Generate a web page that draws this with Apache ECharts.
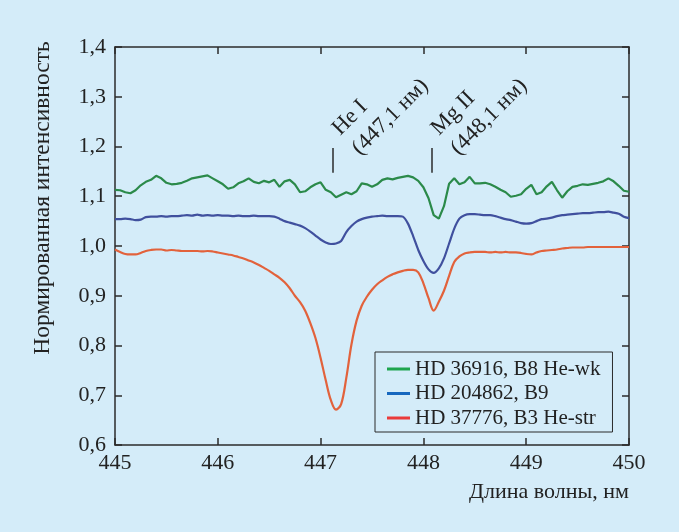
<!DOCTYPE html>
<html>
<head>
<meta charset="utf-8">
<style>
  html, body { margin: 0; padding: 0; background: #d4ecf9; }
  #chart { width: 679px; height: 532px; }
</style>
<script src="https://cdn.jsdelivr.net/npm/echarts@6/dist/echarts.min.js"></script>
</head>
<body>
<div id="chart"></div>
<script>
// длины волн, нм (шаг 0,05)
const waves = [
  445.00, 445.05, 445.10, 445.15, 445.20, 445.25, 445.30, 445.35, 445.40, 445.45,
  445.50, 445.55, 445.60, 445.65, 445.70, 445.75, 445.80, 445.85, 445.90, 445.95,
  446.00, 446.05, 446.10, 446.15, 446.20, 446.25, 446.30, 446.35, 446.40, 446.45,
  446.50, 446.55, 446.60, 446.65, 446.70, 446.75, 446.80, 446.85, 446.90, 446.95,
  447.00, 447.05, 447.10, 447.15, 447.20, 447.25, 447.30, 447.35, 447.40, 447.45,
  447.50, 447.55, 447.60, 447.65, 447.70, 447.75, 447.80, 447.85, 447.90, 447.95,
  448.00, 448.05, 448.10, 448.15, 448.20, 448.25, 448.30, 448.35, 448.40, 448.45,
  448.50, 448.55, 448.60, 448.65, 448.70, 448.75, 448.80, 448.85, 448.90, 448.95,
  449.00, 449.05, 449.10, 449.15, 449.20, 449.25, 449.30, 449.35, 449.40, 449.45,
  449.50, 449.55, 449.60, 449.65, 449.70, 449.75, 449.80, 449.85, 449.90, 449.95,
  450.00
];

// HD 36916, B8 He-wk
const hd36916 = [
  1.113, 1.112, 1.108, 1.106, 1.112, 1.122, 1.129, 1.133, 1.141, 1.136,
  1.127, 1.124, 1.125, 1.127, 1.131, 1.136, 1.138, 1.140, 1.142, 1.136,
  1.130, 1.124, 1.115, 1.118, 1.126, 1.130, 1.136, 1.129, 1.126, 1.131,
  1.128, 1.133, 1.119, 1.130, 1.133, 1.124, 1.108, 1.110, 1.118, 1.124,
  1.128, 1.113, 1.108, 1.098, 1.103, 1.108, 1.104, 1.110, 1.126, 1.124,
  1.119, 1.124, 1.133, 1.136, 1.134, 1.137, 1.139, 1.141, 1.138, 1.131,
  1.118, 1.096, 1.062, 1.055, 1.080, 1.125, 1.136, 1.124, 1.128, 1.139,
  1.126, 1.126, 1.127, 1.124, 1.119, 1.113, 1.108, 1.099, 1.101, 1.104,
  1.115, 1.123, 1.104, 1.108, 1.120, 1.129, 1.112, 1.097, 1.110, 1.119,
  1.121, 1.124, 1.123, 1.125, 1.127, 1.130, 1.136, 1.130, 1.121, 1.111,
  1.109
];

// HD 204862, B9
const hd204862 = [
  1.054, 1.054, 1.055, 1.054, 1.052, 1.053, 1.058, 1.059, 1.059, 1.060,
  1.059, 1.060, 1.060, 1.061, 1.062, 1.061, 1.063, 1.061, 1.062, 1.061,
  1.062, 1.061, 1.061, 1.060, 1.061, 1.060, 1.060, 1.061, 1.060, 1.060,
  1.060, 1.059, 1.055, 1.050, 1.047, 1.044, 1.041, 1.036, 1.029, 1.021,
  1.013, 1.007, 1.004, 1.005, 1.010, 1.028, 1.040, 1.049, 1.054, 1.057,
  1.059, 1.060, 1.061, 1.060, 1.060, 1.060, 1.059, 1.045, 1.020, 0.992,
  0.970, 0.953, 0.946, 0.955, 0.975, 1.005, 1.035, 1.055, 1.062, 1.064,
  1.064, 1.063, 1.062, 1.062, 1.060, 1.057, 1.054, 1.052, 1.049, 1.046,
  1.045, 1.046, 1.050, 1.054, 1.055, 1.057, 1.060, 1.062, 1.063, 1.064,
  1.065, 1.066, 1.066, 1.067, 1.068, 1.068, 1.069, 1.067, 1.065, 1.059,
  1.056
];

// HD 37776, B3 He-str
const hd37776 = [
  0.993, 0.988, 0.984, 0.983, 0.983, 0.986, 0.990, 0.992, 0.993, 0.993,
  0.991, 0.992, 0.991, 0.990, 0.990, 0.990, 0.990, 0.989, 0.990, 0.989,
  0.987, 0.985, 0.983, 0.981, 0.978, 0.975, 0.971, 0.967, 0.962, 0.956,
  0.950, 0.943, 0.936, 0.927, 0.915, 0.900, 0.887, 0.870, 0.845, 0.815,
  0.775, 0.730, 0.690, 0.671, 0.682, 0.735, 0.802, 0.850, 0.880, 0.898,
  0.912, 0.923, 0.931, 0.938, 0.943, 0.947, 0.950, 0.952, 0.952, 0.947,
  0.925, 0.895, 0.870, 0.888, 0.910, 0.940, 0.968, 0.979, 0.985, 0.987,
  0.988, 0.988, 0.988, 0.987, 0.988, 0.987, 0.988, 0.987, 0.987, 0.986,
  0.984, 0.983, 0.987, 0.990, 0.991, 0.992, 0.993, 0.995, 0.996, 0.997,
  0.997, 0.997, 0.998, 0.998, 0.998, 0.998, 0.998, 0.998, 0.998, 0.998,
  0.998
];

const seriesNames = ['HD 36916, B8 He-wk', 'HD 204862, B9', 'HD 37776, B3 He-str'];
const lineColors = ['#2b8a4a', '#40509e', '#e2623c'];
const legendColors = ['#1ea54e', '#1768bf', '#ea3b3b'];

// линии He I и Mg II
const lineMarks = [447.12, 448.08];
const lineLabels = ['He I\n(447,1 нм)', 'Mg II\n(448,1 нм)'];

const font = 'Liberation Serif';
const axisColor = '#2b2b2b';

const chart = echarts.init(document.getElementById('chart'));

const mkLine = (name, vals, color, smooth) => ({
  name: name,
  type: 'line',
  data: waves.map((w, i) => [w, vals[i]]),
  symbol: 'none',
  smooth: smooth,
  lineStyle: { color: color, width: 2.2 },
  itemStyle: { color: color },
  z: 3
});

const yFmt = v => v.toFixed(1).replace('.', ',');

const option = {
  backgroundColor: '#d4ecf9',
  animation: false,
  grid: { left: 115, right: 50, top: 47, bottom: 87 },
  legend: {
    orient: 'vertical',
    left: 375,
    top: 352,
    padding: [6, 12, 3, 12],
    itemGap: 2.5,
    itemWidth: 23,
    itemHeight: 3,
    icon: 'rect',
    borderColor: axisColor,
    borderWidth: 1,
    borderRadius: 0,
    textStyle: { fontFamily: font, fontSize: 21, color: '#222', lineHeight: 22 },
    data: seriesNames.map((n, i) => ({ name: n, itemStyle: { color: legendColors[i] } }))
  },
  xAxis: [{
    type: 'value',
    min: 445,
    max: 450,
    interval: 1,
    name: 'Длина волны, нм',
    nameLocation: 'end',
    nameGap: 0,
    nameTextStyle: {
      fontFamily: font, fontSize: 22, color: '#222',
      align: 'right', verticalAlign: 'top', padding: [36, 0, 0, 0]
    },
    axisLine: { onZero: false, lineStyle: { color: axisColor, width: 1.5 } },
    axisTick: { inside: true, length: 7, lineStyle: { color: axisColor, width: 1.5 } },
    axisLabel: { fontFamily: font, fontSize: 22, color: '#222', margin: 7 },
    splitLine: { show: false }
  }, {
    type: 'value',
    position: 'top',
    min: 445,
    max: 450,
    interval: 1,
    axisLine: { onZero: false, lineStyle: { color: axisColor, width: 1.5 } },
    axisTick: { inside: true, length: 7, lineStyle: { color: axisColor, width: 1.5 } },
    axisLabel: { show: false },
    splitLine: { show: false }
  }],
  yAxis: [{
    type: 'value',
    min: 0.6,
    max: 1.4,
    interval: 0.1,
    name: 'Нормированная интенсивность',
    nameLocation: 'middle',
    nameGap: 60,
    nameRotate: 90,
    nameTextStyle: {
      fontFamily: font, fontSize: 23.5, color: '#222', padding: [0, 0, 0, 96]
    },
    axisLine: { onZero: false, lineStyle: { color: axisColor, width: 1.5 } },
    axisTick: { inside: true, length: 7, lineStyle: { color: axisColor, width: 1.5 } },
    axisLabel: { fontFamily: font, fontSize: 22, color: '#222', margin: 9, formatter: yFmt },
    splitLine: { show: false }
  }, {
    type: 'value',
    position: 'right',
    min: 0.6,
    max: 1.4,
    interval: 0.1,
    axisLine: { onZero: false, lineStyle: { color: axisColor, width: 1.5 } },
    axisTick: { inside: true, length: 7, lineStyle: { color: axisColor, width: 1.5 } },
    axisLabel: { show: false },
    splitLine: { show: false }
  }],
  series: [
    Object.assign(mkLine(seriesNames[0], hd36916, lineColors[0], false), {
      markLine: {
        silent: true,
        symbol: 'none',
        label: { show: false },
        lineStyle: { color: axisColor, width: 1.5, type: 'solid' },
        data: lineMarks.map(x => [{ coord: [x, 1.147] }, { coord: [x, 1.197] }])
      },
      markPoint: {
        silent: true,
        symbol: 'circle',
        symbolSize: 0,
        label: {
          show: true,
          position: 'inside',
          align: 'left',
          verticalAlign: 'bottom',
          rotate: 45,
          fontFamily: font,
          fontSize: 22.5,
          lineHeight: 28,
          color: '#222'
        },
        data: lineMarks.map((x, i) => ({
          coord: [x + 0.32, 1.17],
          value: lineLabels[i],
          label: { formatter: lineLabels[i] }
        }))
      }
    }),
    mkLine(seriesNames[1], hd204862, lineColors[1], 0.25),
    mkLine(seriesNames[2], hd37776, lineColors[2], 0.35)
  ]
};

chart.setOption(option);
window.addEventListener('resize', () => chart.resize());
</script>
</body>
</html>
